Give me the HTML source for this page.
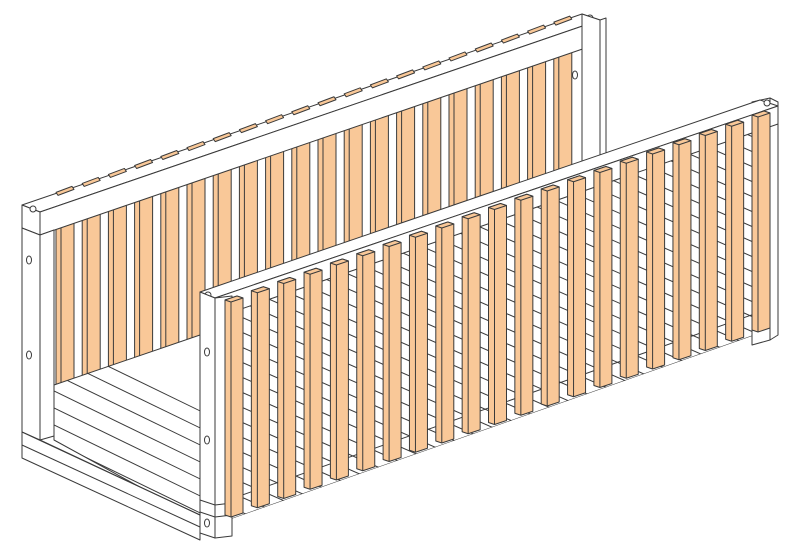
<!DOCTYPE html>
<html><head><meta charset="utf-8"><style>
html,body{margin:0;padding:0;background:#fff;width:800px;height:555px;overflow:hidden}
svg{display:block}
</style></head><body>
<svg id="s" width="800" height="555" viewBox="0 0 800 555" xmlns="http://www.w3.org/2000/svg">
<defs>
<clipPath id="gap"><polygon points="214,318 755,126 755,335 214,525"/></clipPath>
<clipPath id="flr"><polygon points="54,385 200,335 200,520 54,440"/></clipPath>
</defs>
<g id="g" stroke="#3a3a3a" stroke-width="1" fill="#fff" stroke-linejoin="round"></g>
</svg>
<script>
var g=document.getElementById('g'),NS='http://www.w3.org/2000/svg';
function el(t,a,p){var e=document.createElementNS(NS,t);for(var k in a)e.setAttribute(k,a[k]);(p||g).appendChild(e);return e;}
function poly(pts,f,p){return el('polygon',{points:pts.map(function(q){return q.join(',')}).join(' '),fill:f||'#fff'},p);}
function line(a,b,c,d,p){return el('line',{x1:a,y1:b,x2:c,y2:d},p);}
var OR='#f9c898';
for(var x=56;x<580;x+=26.2){
  var t=235-(x-40)*0.342-4, b=385-(x-55)*0.342;
  poly([[x,t],[x+18,t-6],[x+18,b-6],[x,b]],OR);
  line(x+5,t-2,x+5,b-2);
}
poly([[22,205],[582,14],[600,20],[40,212]]);
poly([[40,212],[600,20],[600,43],[40,235]]);
poly([[22,205],[40,212],[40,235],[22,228]]);
for(var x=56;x<580;x+=26.2){var y=205-(x-22)*0.342;poly([[x,y-1],[x+16,y-7],[x+18,y-4],[x+2,y+2]],OR);}
poly([[22,228],[40,235],[40,440],[22,432]]);
poly([[40,235],[54,230],[54,436],[40,440]]);
el('ellipse',{cx:29,cy:260,rx:2.5,ry:4});el('ellipse',{cx:29,cy:355,rx:2.5,ry:4});el('ellipse',{cx:29,cy:445,rx:2.5,ry:4});
el('circle',{cx:33,cy:209,r:3});el('circle',{cx:590,cy:18,r:3});
poly([[582,14],[600,20],[600,200],[582,200]]);
poly([[600,20],[606,18],[606,200],[600,200]]);
el('ellipse',{cx:575,cy:75,rx:2.5,ry:4});
poly([[54,385],[200,335],[200,520],[54,440]],'#fff');
var fg=el('g',{'clip-path':'url(#flr)'});
for(var k=0;k<12;k++){var y0=370+k*17;line(54,y0-30,260,y0+70,fg);}
poly([[22,432],[200,515],[200,540],[22,458]]);
line(22,445,200,527);
line(40,440,200,515);
var gg=el('g',{'clip-path':'url(#gap)'});
poly([[214,318],[755,126],[755,335],[214,525]],'#fff',gg);
for(var k=-40;k<30;k++){var y0=320+k*15;line(214,y0,760,y0+240,gg);}
line(214,505,760,312,gg);
poly([[752,102],[770,98],[770,340],[752,345]]);
poly([[770,98],[778,102],[778,335],[770,340]]);
el('ellipse',{cx:762,cy:160,rx:2.5,ry:4});el('ellipse',{cx:762,cy:250,rx:2.5,ry:4});
poly([[200,292],[760,100],[778,106],[215,298]]);
poly([[215,298],[778,106],[778,124],[215,318]]);
el('circle',{cx:208,cy:295,r:3});el('circle',{cx:767,cy:103,r:3});
poly([[200,292],[215,298],[215,538],[200,533]]);
poly([[215,298],[232,296],[232,536],[215,538]]);
line(200,500,215,505);line(200,512,215,517);line(215,505,232,503);line(215,517,232,515);
el('ellipse',{cx:207,cy:352,rx:2.5,ry:4});el('ellipse',{cx:207,cy:440,rx:2.5,ry:4});el('ellipse',{cx:207,cy:523,rx:2.5,ry:4});
for(var i=0;i<21;i++){
  var x=225+i*26.35, t=297-(x-225)*0.351, b=515-(x-225)*0.351;
  poly([[x,t+3],[x+12,t-1],[x+18,t+1],[x+18,b-2],[x+6,b+2],[x,b]],OR);
  poly([[x,t+3],[x+12,t-1],[x+18,t+1],[x+6,t+5]],OR);
  line(x+6,t+5,x+6,b+2);
}
</script>
</body></html>
